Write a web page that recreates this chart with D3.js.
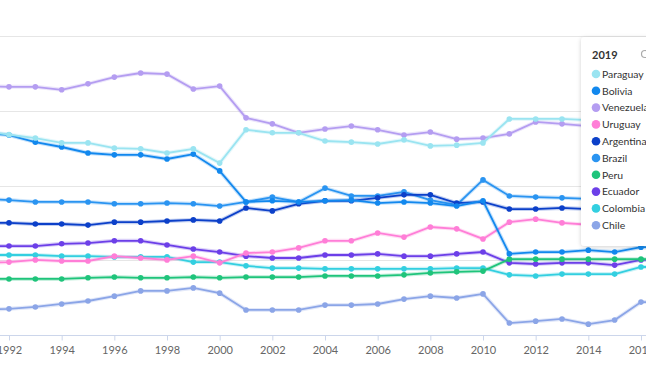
<!DOCTYPE html>
<html>
<head>
<meta charset="utf-8">
<script src="https://cdn.jsdelivr.net/npm/d3@7"></script>
<style>
  body { margin: 0; background: #fff; }
  #chart { width: 646px; height: 366px; overflow: hidden; }
  svg { font-family: Lato, "Open Sans", sans-serif; display: block; }
</style>
</head>
<body>
<div id="chart"></div>
<script>
const years = d3.range(1991, 2018);
const tickYears = d3.range(1992, 2017, 2);
const gridValues = [0, 20, 40, 60, 80];
const legendTitle = "2019";

const countries = ["Paraguay", "Bolivia", "Venezuela", "Uruguay", "Argentina", "Brazil", "Peru", "Ecuador", "Colombia", "Chile"];
const colors = ["#9ae4f1", "#1288ee", "#b49df1", "#ff7ed7", "#0c40c9", "#2a94f1", "#1fc47b", "#6c3fe8", "#33cfe0", "#8ba5e7"];

const paraguay  = [54.6, 53.6, 52.7, 51.4, 51.4, 50.0, 49.8, 48.7, 49.8, 46.0, 54.9, 54.1, 54.1, 51.9, 51.6, 51.1, 52.2, 50.6, 50.8, 51.4, 57.8, 57.8, 57.8, 57.5, 57.3, 57.0, 57.0];
const bolivia   = [54.1, 53.5, 51.6, 50.3, 48.7, 48.2, 48.2, 47.1, 48.4, 43.9, 35.6, 35.9, 35.6, 35.9, 36.1, 35.3, 35.6, 35.3, 34.5, 35.9, 21.7, 22.2, 22.2, 22.7, 22.2, 23.5, 23.5];
const venezuela = [66.6, 66.4, 66.4, 65.6, 67.2, 69.0, 70.1, 69.8, 65.8, 66.6, 58.1, 56.5, 54.1, 55.1, 55.9, 54.9, 53.5, 54.3, 52.4, 52.7, 53.8, 57.0, 56.5, 55.9, 55.5, 55.5, 55.5];
const uruguay   = [19.3, 19.5, 20.1, 19.8, 19.8, 21.1, 20.6, 20.1, 21.1, 19.3, 21.9, 22.2, 23.3, 25.2, 25.2, 27.3, 26.2, 28.9, 28.4, 25.7, 30.2, 31.0, 30.0, 29.5, 29.5, 29.8, 29.8];
const argentina = [30.0, 30.0, 29.7, 29.7, 29.4, 30.2, 30.2, 30.5, 30.8, 30.5, 34.0, 33.2, 35.1, 35.9, 35.9, 36.7, 37.5, 37.5, 35.3, 35.6, 33.7, 33.7, 34.0, 33.7, 33.7, 33.7, 33.7];
const brazil    = [36.4, 36.1, 35.6, 35.6, 35.6, 35.1, 35.1, 35.3, 35.1, 34.5, 35.6, 36.9, 35.6, 39.3, 37.2, 37.2, 38.3, 36.1, 34.8, 41.5, 37.2, 36.9, 36.7, 36.4, 36.4, 36.4, 36.4];
const peru      = [15.0, 15.0, 15.0, 15.0, 15.3, 15.5, 15.3, 15.3, 15.5, 15.3, 15.5, 15.5, 15.5, 15.8, 15.8, 15.8, 16.1, 16.6, 16.9, 17.1, 20.3, 20.3, 20.3, 20.3, 20.3, 20.3, 20.3];
const ecuador   = [23.8, 23.8, 23.8, 24.4, 24.6, 25.2, 25.2, 24.1, 23.0, 22.2, 21.1, 20.6, 20.6, 21.4, 21.4, 21.7, 21.1, 21.1, 21.7, 22.2, 19.3, 19.0, 19.3, 19.3, 18.7, 20.1, 20.1];
const colombia  = [21.4, 21.4, 21.4, 21.1, 21.1, 20.9, 20.9, 20.9, 19.5, 19.5, 18.5, 17.9, 17.9, 17.7, 17.7, 17.7, 17.7, 17.7, 17.9, 17.9, 16.1, 15.8, 16.3, 16.3, 16.3, 18.2, 18.2];
const chile     = [6.7, 7.0, 7.5, 8.3, 9.1, 10.4, 11.8, 11.8, 12.6, 11.2, 6.7, 6.7, 6.7, 8.0, 8.0, 8.3, 9.6, 10.4, 9.9, 11.0, 3.2, 3.7, 4.3, 2.9, 4.0, 8.8, 8.8];

const seriesValues = [paraguay, bolivia, venezuela, uruguay, argentina, brazil, peru, ecuador, colombia, chile];

const width = 646;
const height = 366;

const series = countries.map(function(name, i) {
    return {
        name: name,
        color: colors[i],
        values: years.map(function(y, j) { return {year: y, value: seriesValues[i][j]}; })
    };
});

const svg = d3.select("#chart")
    .append("svg")
    .attr("width", width)
    .attr("height", height);

const xScale = d3.scaleLinear()
    .domain([1992, 2016])
    .range([9, 641]);

const yScale = d3.scaleLinear()
    .domain([0, 80])
    .range([335, 36]);

// grid
svg.append("g")
    .selectAll("line")
    .data(gridValues.slice(1))
    .enter()
    .append("line")
        .attr("x1", 0)
        .attr("x2", width)
        .attr("y1", function(d) { return Math.round(yScale(d)) + 0.5; })
        .attr("y2", function(d) { return Math.round(yScale(d)) + 0.5; })
        .attr("stroke", "#e6e6e6")
        .attr("stroke-width", 1);

// x axis
const xAxis = svg.append("g")
    .attr("transform", `translate(0, ${Math.round(yScale(0)) + 0.5})`)
    .call(d3.axisBottom(xScale).tickValues(tickYears).tickFormat(d3.format("d")).tickSize(5).tickSizeOuter(0));

xAxis.select(".domain").attr("stroke", "#ccd6eb").attr("d", `M0,0H${width}`);
xAxis.selectAll(".tick line").attr("stroke", "#ccd6eb");
xAxis.selectAll(".tick text")
    .attr("fill", "#666666")
    .attr("font-size", "11px")
    .attr("font-family", "Lato, sans-serif")
    .attr("dy", "0.95em");

const line = d3.line()
    .x(function(d) { return xScale(d.year); })
    .y(function(d) { return yScale(d.value); });

const drawOrder = series.slice().reverse();

const groups = svg.append("g")
    .selectAll("g")
    .data(drawOrder)
    .enter()
    .append("g");

groups.append("path")
    .attr("d", function(d) { return line(d.values); })
    .attr("fill", "none")
    .attr("stroke", function(d) { return d.color; })
    .attr("stroke-opacity", 0.25)
    .attr("stroke-width", 4);

groups.append("path")
    .attr("d", function(d) { return line(d.values); })
    .attr("fill", "none")
    .attr("stroke", function(d) { return d.color; })
    .attr("stroke-width", 1.8);

groups.selectAll("circle")
    .data(function(d) { return d.values.map(function(v) { return {year: v.year, value: v.value, color: d.color}; }); })
    .enter()
    .append("circle")
        .attr("cx", function(d) { return xScale(d.year); })
        .attr("cy", function(d) { return yScale(d.value); })
        .attr("r", 2.8)
        .attr("fill", function(d) { return d.color; });

// legend
const legend = svg.append("g")
    .attr("transform", "translate(581, 37)");

const defs = svg.append("defs");
const filter = defs.append("filter").attr("id", "shadow").attr("x", "-20%").attr("y", "-10%").attr("width", "140%").attr("height", "120%");
filter.append("feDropShadow").attr("dx", 0).attr("dy", 1).attr("stdDeviation", 2).attr("flood-color", "#000").attr("flood-opacity", 0.18);

legend.append("rect")
    .attr("x", 0)
    .attr("y", 0)
    .attr("width", 90)
    .attr("height", 209)
    .attr("rx", 4)
    .attr("fill", "#fff")
    .attr("filter", "url(#shadow)");

legend.append("text")
    .attr("x", 11)
    .attr("y", 22)
    .attr("font-size", "11px")
    .attr("font-weight", "bold")
    .attr("fill", "#333")
    .text(legendTitle);

legend.append("circle")
    .attr("cx", 64)
    .attr("cy", 17)
    .attr("r", 3.5)
    .attr("fill", "none")
    .attr("stroke", "#aaa")
    .attr("stroke-width", 1.2);

const items = legend.selectAll(".item")
    .data(series)
    .enter()
    .append("g")
        .attr("class", "item")
        .attr("transform", function(d, i) { return `translate(0, ${37 + i * 16.8})`; });

items.append("circle")
    .attr("cx", 15)
    .attr("cy", 0)
    .attr("r", 4.3)
    .attr("fill", function(d) { return d.color; });

items.append("text")
    .attr("x", 21)
    .attr("y", 3.8)
    .attr("font-size", "10.4px")
    .attr("fill", "#333")
    .text(function(d) { return d.name; });
</script>
</body>
</html>
